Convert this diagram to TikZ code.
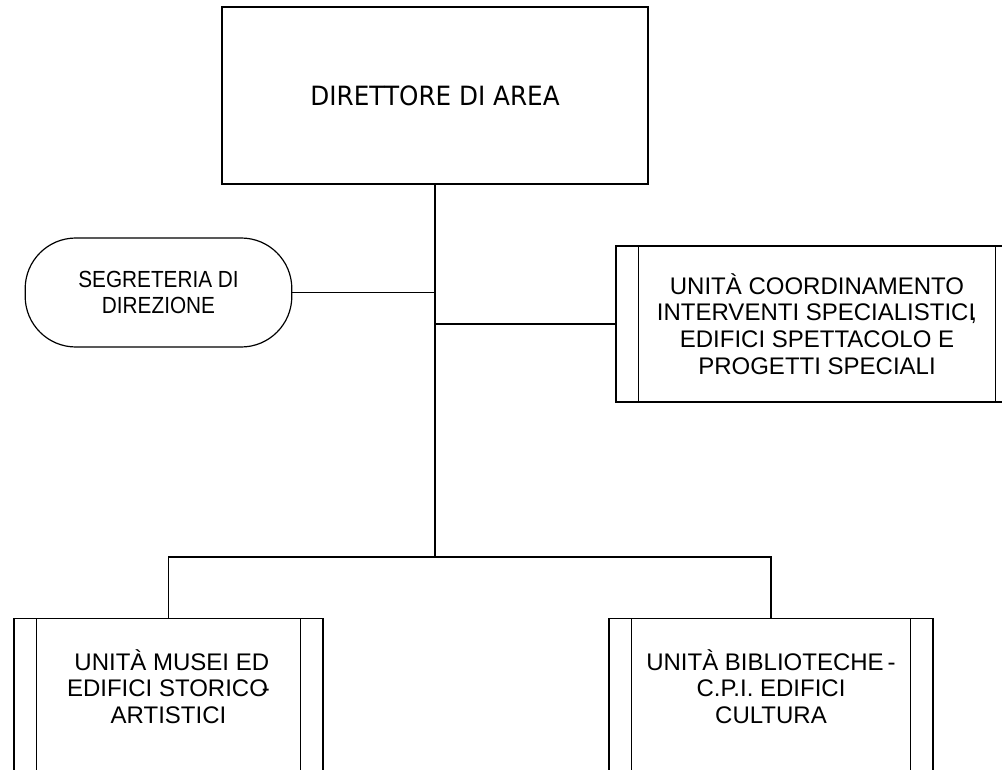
\documentclass[tikz,border=0pt]{standalone}
\usepackage{fontspec}
\setmainfont{Liberation Sans}
\newfontfamily\tahoma[FakeStretch=0.93]{DejaVu Sans}
\newfontfamily\narrowsans[FakeStretch=0.89]{Liberation Sans}
\usetikzlibrary{positioning}

\begin{document}
\begin{tikzpicture}[x=0.75pt,y=-0.75pt,line width=0.9pt]
    \tikzstyle{office}=[draw, rectangle, align=center, text=black]
    \tikzstyle{staff}=[draw, rectangle, rounded corners=38pt, align=center, text=black, font=\narrowsans\fontsize{17.5}{20}\selectfont, minimum width=200pt, minimum height=81.75pt]
    \tikzstyle{unit}=[style=office, font=\fontsize{18}{20}\selectfont]
    \tikzstyle{unitlabel}=[align=center, text=black, font=\fontsize{18}{20}\selectfont, yshift=24pt]

    \useasboundingbox (0,0) rectangle (1002,770);

    \node[office,minimum width=319.5pt,minimum height=132.75pt,font=\tahoma\fontsize{19.9}{22}\selectfont] (dir) at (435,95.5) {DIRETTORE DI AREA};
    \node[staff] (segr) at (158.5,292.5) {SEGRETERIA DI\\DIREZIONE};
    \node[unit,minimum width=301.5pt,minimum height=117pt] (coord) at (817,324)
      {UNITÀ COORDINAMENTO\\INTERVENTI SPECIALISTICI\kern-.2em,\\EDIFICI SPETTACOLO E\\PROGETTI SPECIALI};
    \node[unit,anchor=north,minimum width=231.75pt,minimum height=150pt,
      label={[name=musei text,unitlabel]center:{\ UNITÀ MUSEI ED\\EDIFICI STORICO\kern-.25em-\\ARTISTICI}}] (musei) at (168.5,618) {};
    \node[unit,anchor=north,minimum width=243pt,minimum height=150pt,
      label={[name=biblio text,unitlabel]center:{UNITÀ BIBLIOTECHE\,-\\C.P.I. EDIFICI\\CULTURA}}] (biblio) at (771,618) {};

    % double side bars of the unit boxes
    \foreach \n in {coord,musei,biblio}
      \draw ([xshift=17.25pt]\n.north west) -- ([xshift=17.25pt]\n.south west)
            ([xshift=-17.25pt]\n.north east) -- ([xshift=-17.25pt]\n.south east);

    \coordinate (fork) at (435,557);
    \draw (dir.south) -- (fork);
    \draw (segr.east) -- (segr.east -| dir.south);
    \draw (coord.west) -- (coord.west -| dir.south);
    \draw (musei.north) |- (fork) -| (biblio.north);
\end{tikzpicture}
\end{document}
